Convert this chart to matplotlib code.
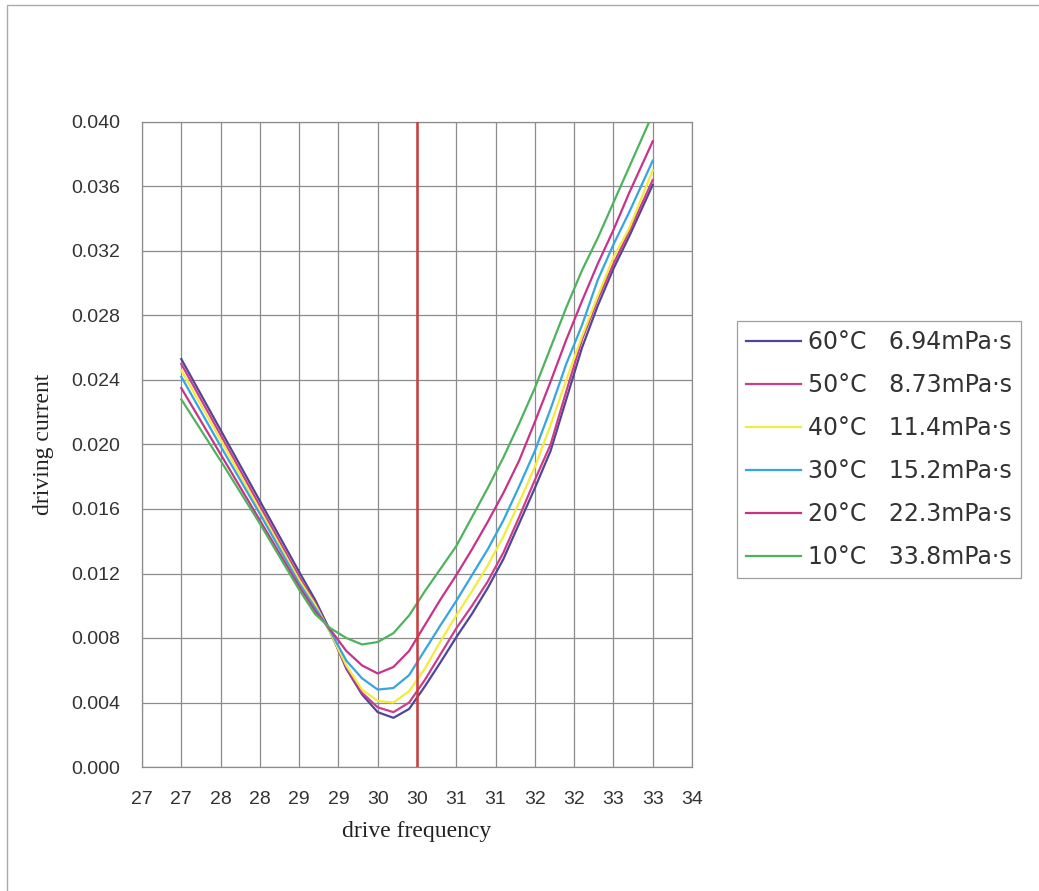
import matplotlib
matplotlib.use('Agg')
import matplotlib.pyplot as plt
from matplotlib.patches import Rectangle

# drive frequency sample points (kHz) shared by every series
freq = [27.3, 27.8, 28.3, 28.8, 29.0, 29.2, 29.4, 29.6, 29.8, 30.0, 30.2, 30.4, 30.6,
        30.8, 31.0, 31.2, 31.4, 31.6, 31.8, 32.0, 32.2, 32.4, 32.6, 32.8, 33.0, 33.3]

# driving current (units of 1e-3)
current_60c = [25.3, 20.9, 16.5, 12.1, 10.4, 8.4, 6.1, 4.5, 3.4, 3.05, 3.6, 5.0, 6.5,
               8.05, 9.5, 11.1, 12.9, 15.1, 17.3, 19.6, 22.8, 26.0, 28.6, 30.9, 32.9, 36.1]
current_50c = [25.0, 20.6, 16.2, 11.8, 10.2, 8.3, 6.2, 4.6, 3.7, 3.4, 4.0, 5.4, 7.0,
               8.6, 10.0, 11.5, 13.3, 15.5, 17.8, 20.0, 23.3, 26.5, 29.0, 31.2, 33.2, 36.4]
current_40c = [24.6, 20.3, 15.9, 11.6, 10.1, 8.3, 6.3, 4.8, 4.1, 4.0, 4.7, 6.1, 7.8,
               9.4, 10.9, 12.5, 14.3, 16.4, 18.6, 21.2, 24.0, 26.7, 29.2, 31.6, 33.4, 37.0]
current_30c = [24.2, 19.9, 15.7, 11.4, 9.9, 8.4, 6.6, 5.5, 4.8, 4.9, 5.7, 7.25, 8.8,
               10.3, 11.9, 13.5, 15.3, 17.4, 19.6, 22.2, 25.0, 27.4, 30.2, 32.4, 34.4, 37.6]
current_20c = [23.5, 19.4, 15.3, 11.2, 9.7, 8.5, 7.2, 6.3, 5.8, 6.2, 7.2, 8.8, 10.4,
               11.9, 13.5, 15.2, 17.0, 19.0, 21.4, 23.9, 26.5, 28.9, 31.2, 33.3, 35.6, 38.8]
current_10c = [22.8, 19.0, 15.1, 11.0, 9.5, 8.6, 8.0, 7.6, 7.75, 8.3, 9.4, 10.9, 12.3,
               13.7, 15.5, 17.3, 19.2, 21.3, 23.5, 26.0, 28.5, 30.8, 32.8, 35.0, 37.2, 40.5]

series_labels = ['60°C   6.94mPa·s', '50°C   8.73mPa·s', '40°C   11.4mPa·s',
                 '30°C   15.2mPa·s', '20°C   22.3mPa·s', '10°C   33.8mPa·s']

resonance_freq = 30.3

x_ticks = [26.8, 27.3, 27.8, 28.3, 28.8, 29.3, 29.8, 30.3, 30.8, 31.3, 31.8, 32.3, 32.8, 33.3, 33.8]
x_tick_labels = ['27', '27', '28', '28', '29', '29', '30', '30', '31', '31', '32', '32', '33', '33', '34']
y_ticks = [0.000, 0.004, 0.008, 0.012, 0.016, 0.020, 0.024, 0.028, 0.032, 0.036, 0.040]

colors = ['#4f4699', '#cc3d8c', '#f2ec3a', '#36a5e3', '#c8338a', '#4fb35e']


def main():
    fig = plt.figure(figsize=(10.39, 8.91), dpi=100)
    fig.patch.set_facecolor('white')

    # outer chart-area border (only left/top visible in the scan)
    fig.patches.append(Rectangle((0.007, -0.1), 1.2, 1.094, transform=fig.transFigure,
                                 fill=False, edgecolor='#aaaaaa', linewidth=1.0))

    ax = fig.add_axes([142 / 1039, 1 - 767 / 891, 550 / 1039, 645 / 891])

    all_series = [current_60c, current_50c, current_40c, current_30c, current_20c, current_10c]
    handles = []
    for values, color in zip(all_series, colors):
        line, = ax.plot(freq, [v / 1000 for v in values], color=color, linewidth=1.6,
                        solid_joinstyle='round', zorder=3)
        handles.append(line)

    ax.axvline(resonance_freq, color='#cc3b3b', linewidth=1.8, zorder=4)

    ax.set_xlim(x_ticks[0], x_ticks[-1])
    ax.set_ylim(0, 0.040)
    ax.set_xticks(x_ticks)
    ax.set_xticklabels(x_tick_labels)
    ax.set_yticks(y_ticks)
    ax.set_yticklabels([f'{v:.3f}' for v in y_ticks])
    ax.tick_params(length=0, labelsize=14, labelcolor='#333333')
    ax.tick_params(axis='y', pad=16)
    ax.tick_params(axis='x', pad=17)
    for lbl in ax.get_xticklabels() + ax.get_yticklabels():
        lbl.set_fontfamily('Liberation Sans')

    ax.grid(True, color='#8c8c8c', linewidth=0.9, zorder=0)
    for spine in ax.spines.values():
        spine.set_color('#8c8c8c')
        spine.set_linewidth(0.9)

    ax.set_xlabel('drive frequency', fontfamily='Liberation Serif', fontsize=17,
                  labelpad=10, color='#222222')
    ax.set_ylabel('driving current', fontfamily='Liberation Serif', fontsize=17,
                  labelpad=12, color='#222222')

    leg = fig.legend(handles, series_labels, loc='upper left',
                     bbox_to_anchor=(737 / 1039, 1 - 321 / 891), bbox_transform=fig.transFigure,
                     borderaxespad=0, fancybox=False, frameon=True,
                     prop={'family': 'DejaVu Sans', 'size': 17},
                     handlelength=2.3, handletextpad=0.3, borderpad=0.4, labelspacing=0.8)
    leg.get_frame().set_edgecolor('#888888')
    leg.get_frame().set_linewidth(0.9)
    for txt in leg.get_texts():
        txt.set_color('#333333')
    for lh in leg.get_lines():
        lh.set_linewidth(1.6)

    fig.savefig('out.png', dpi=100)
    plt.close(fig)


if __name__ == '__main__':
    main()
